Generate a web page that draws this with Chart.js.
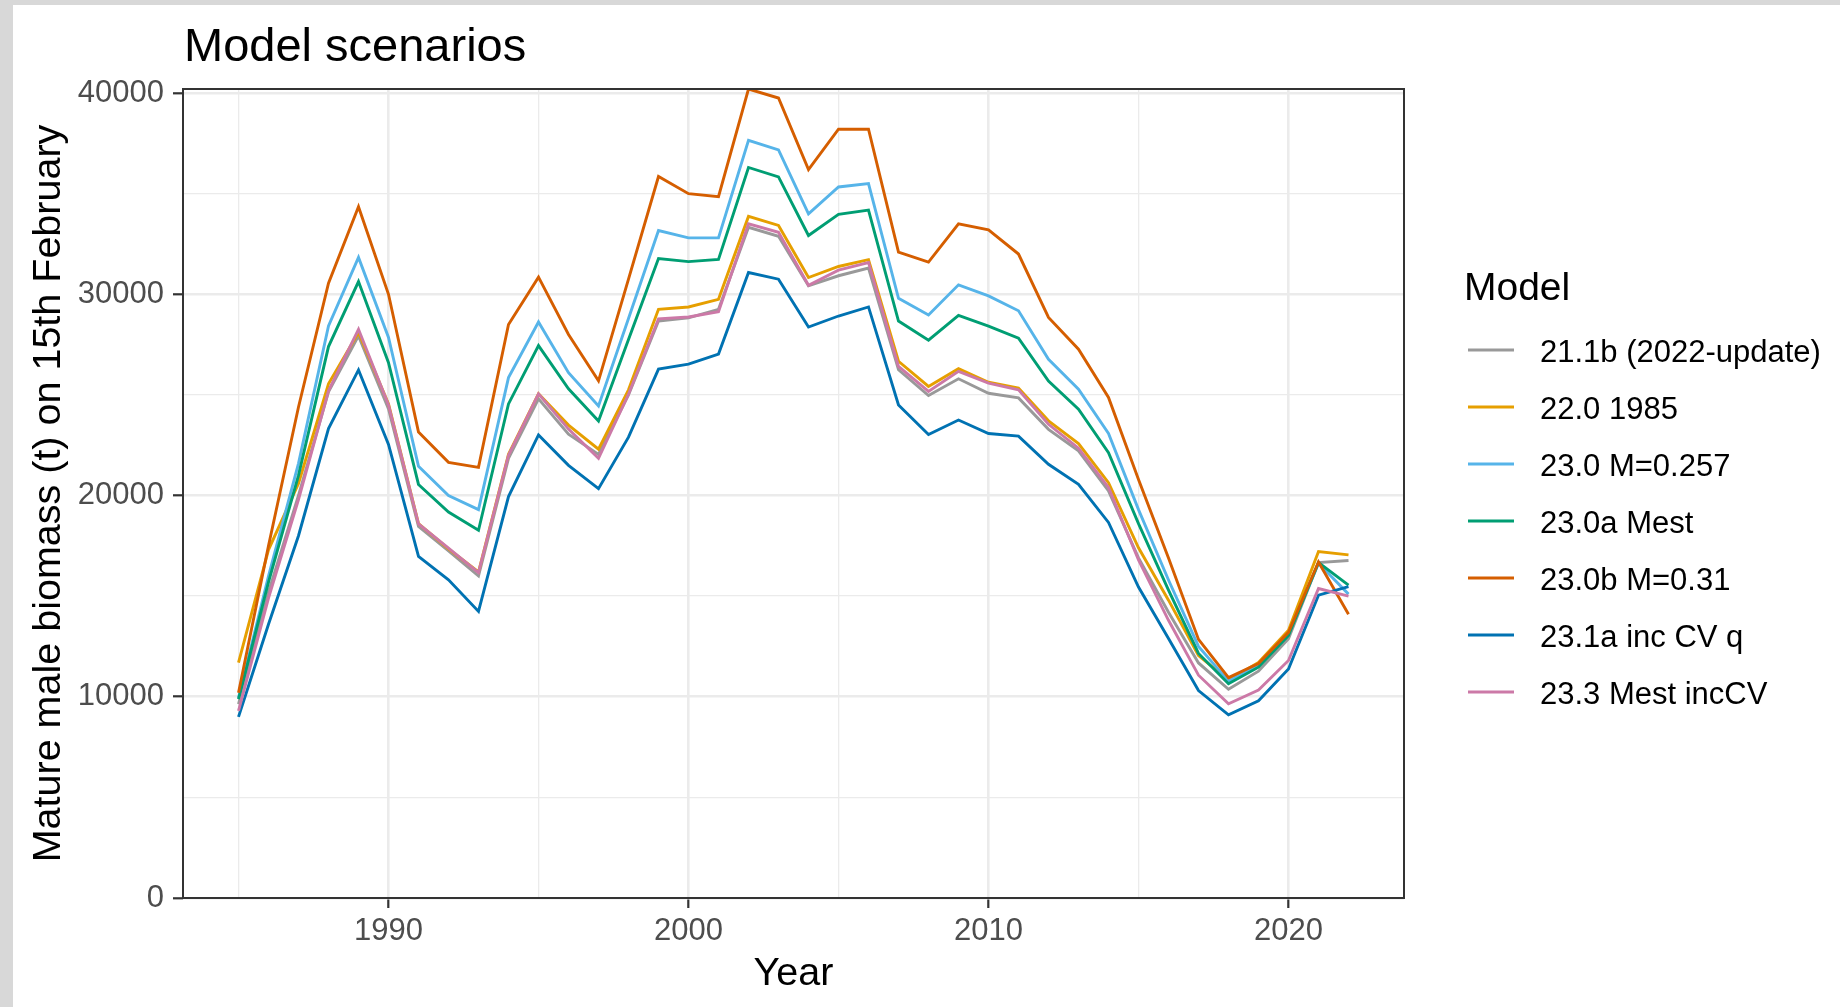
<!DOCTYPE html>
<html>
<head>
<meta charset="utf-8">
<title>Model scenarios</title>
<script src="https://cdn.jsdelivr.net/npm/chart.js@4.4.1/dist/chart.umd.min.js"></script>
<style>
  html, body { margin: 0; padding: 0; background: #fff; }
  #wrap { position: relative; width: 1840px; height: 1007px; overflow: hidden; }
  #chart { position: absolute; left: 0; top: 0; }
  .edge { position: absolute; background: #d8d8d8; }
</style>
</head>
<body>
<div id="wrap">
  <canvas id="chart" width="1840" height="1007"></canvas>
  <div class="edge" style="left:0;top:0;width:1840px;height:5px"></div>
  <div class="edge" style="left:0;top:0;width:13px;height:1007px"></div>
</div>
<script>
const chartTitle = "Model scenarios";
const xTitle = "Year";
const yTitle = "Mature male biomass (t) on 15th February";
const legendTitle = "Model";

const years = [1985, 1986, 1987, 1988, 1989, 1990, 1991, 1992, 1993, 1994,
  1995, 1996, 1997, 1998, 1999, 2000, 2001, 2002, 2003, 2004,
  2005, 2006, 2007, 2008, 2009, 2010, 2011, 2012, 2013, 2014,
  2015, 2016, 2017, 2018, 2019, 2020, 2021, 2022];

const models = ["21.1b (2022-update)", "22.0 1985", "23.0 M=0.257", "23.0a Mest",
  "23.0b M=0.31", "23.1a inc CV q", "23.3 Mest incCV"];

// mature male biomass (t) per model run
const m211b = [9630, 15200, 20000, 25150, 27930, 24300, 18460, 17250, 16000, 21850,
  24800, 23050, 22040, 25000, 28670, 28830, 29250, 33330, 32880, 30420,
  30920, 31300, 26250, 24970, 25800, 25080, 24850, 23290, 22220, 20230,
  16900, 14200, 11680, 10370, 11270, 12880, 16670, 16770];
const m220 = [11700, 17300, 20600, 25550, 28100, 24550, 18600, 17350, 16200, 22050,
  25060, 23500, 22300, 25250, 29250, 29370, 29750, 33870, 33420, 30830,
  31380, 31720, 26670, 25420, 26300, 25630, 25340, 23710, 22580, 20640,
  17400, 14800, 12050, 10830, 11700, 13300, 17220, 17050];
const m230 = [9950, 16000, 21600, 28430, 31830, 27850, 21450, 20000, 19300, 25860,
  28620, 26100, 24450, 28800, 33170, 32800, 32800, 37650, 37170, 34000,
  35330, 35500, 29800, 28970, 30470, 29920, 29180, 26770, 25280, 23080,
  19300, 15800, 12500, 10770, 11550, 13100, 16630, 15100];
const m230a = [9880, 15700, 21000, 27400, 30630, 26600, 20550, 19180, 18270, 24550,
  27450, 25300, 23700, 27750, 31780, 31620, 31730, 36300, 35830, 32920,
  33970, 34180, 28670, 27720, 28950, 28420, 27820, 25690, 24290, 22130,
  18600, 15300, 12150, 10650, 11470, 13050, 16670, 15550];
const m230b = [10200, 17500, 24400, 30550, 34350, 30000, 23150, 21650, 21400, 28500,
  30850, 28000, 25700, 30750, 35850, 35000, 34850, 40200, 39750, 36200,
  38200, 38200, 32100, 31600, 33500, 33200, 32000, 28850, 27270, 24870,
  20800, 16900, 12850, 10950, 11650, 13200, 16700, 14100];
const m231a = [9000, 13600, 18000, 23330, 26240, 22540, 16970, 15810, 14240, 19950,
  23010, 21500, 20340, 22900, 26280, 26530, 27030, 31080, 30750, 28370,
  28920, 29370, 24500, 23030, 23750, 23080, 22950, 21550, 20560, 18660,
  15450, 12900, 10310, 9100, 9800, 11380, 15050, 15470];
const m233 = [9300, 14900, 19800, 25200, 28260, 24500, 18590, 17380, 16170, 22000,
  25050, 23300, 21850, 25030, 28780, 28870, 29130, 33500, 33080, 30450,
  31200, 31580, 26420, 25170, 26170, 25580, 25250, 23540, 22350, 20400,
  16800, 13800, 11070, 9650, 10330, 11800, 15380, 15000];

// gridline positions; only the labelled ones get a tick mark
const xTicks = [1985, 1990, 1995, 2000, 2005, 2010, 2015, 2020];
const xLabels = [1990, 2000, 2010, 2020];
const yTicks = [0, 5000, 10000, 15000, 20000, 25000, 30000, 35000, 40000];
const yLabels = [0, 10000, 20000, 30000, 40000];

const series = [m211b, m220, m230, m230a, m230b, m231a, m233];
const lineColours = ["#999999", "#E69F00", "#56B4E9", "#009E73", "#D55E00", "#0072B2", "#CC79A7"];

const FONT = '"Liberation Sans", Arial, Helvetica, sans-serif';
Chart.defaults.font.family = FONT;

const datasets = models.map((name, i) => ({
  label: name,
  data: years.map((yr, k) => ({ x: yr, y: series[i][k] })),
  borderColor: lineColours[i],
  backgroundColor: lineColours[i],
  borderWidth: 2.9,
  pointRadius: 0,
  tension: 0,
  fill: false,
  order: models.length - i // first model at the bottom, last on top
}));

// box around the plotting panel
const panelBorder = {
  id: "panelBorder",
  afterDatasetsDraw(chart) {
    const { ctx, chartArea: a } = chart;
    ctx.save();
    ctx.strokeStyle = "#333333";
    ctx.lineWidth = 2;
    ctx.strokeRect(a.left, a.top, a.right - a.left, a.bottom - a.top);
    ctx.restore();
  }
};

// plot title and the legend on the right
const headings = {
  id: "headings",
  afterDraw(chart) {
    const { ctx, chartArea: a } = chart;
    ctx.save();
    ctx.fillStyle = "#000";
    ctx.textBaseline = "alphabetic";
    ctx.textAlign = "left";
    ctx.font = "47px " + FONT;
    ctx.fillText(chartTitle, a.left + 1, 61);

    const lx = a.right + 64;
    ctx.font = "39px " + FONT;
    ctx.fillText(legendTitle, lx - 4, 300);
    ctx.font = "31px " + FONT;
    models.forEach((name, i) => {
      const ky = 350 + i * 57;
      ctx.strokeStyle = lineColours[i];
      ctx.lineWidth = 2.9;
      ctx.beginPath();
      ctx.moveTo(lx, ky);
      ctx.lineTo(lx + 46, ky);
      ctx.stroke();
      ctx.fillText(name, lx + 72, ky + 12);
    });
    ctx.restore();
  }
};

new Chart(document.getElementById("chart"), {
  type: "line",
  data: { datasets },
  plugins: [panelBorder, headings],
  options: {
    responsive: false,
    animation: false,
    events: [],
    layout: { padding: { left: 0, top: 89, right: 436, bottom: 0 } },
    plugins: { legend: { display: false }, tooltip: { enabled: false } },
    scales: {
      x: {
        type: "linear",
        min: 1983.15,
        max: 2023.85,
        afterBuildTicks: (axis) => { axis.ticks = xTicks.map((v) => ({ value: v })); },
        afterFit: (axis) => { axis.height = 109; },
        border: { display: false },
        grid: {
          color: "#EBEBEB",
          lineWidth: (c) => (xLabels.includes(c.tick.value) ? 2.6 : 1.3),
          tickColor: (c) => (xLabels.includes(c.tick.value) ? "#333333" : "rgba(0,0,0,0)"),
          tickLength: 10,
          tickWidth: 2.2
        },
        ticks: {
          autoSkip: false,
          maxRotation: 0,
          padding: 5,
          color: "#4D4D4D",
          font: { size: 31 },
          callback: (v) => (xLabels.includes(v) ? String(v) : "")
        },
        title: {
          display: true,
          text: xTitle,
          color: "#000",
          font: { size: 39.5 },
          padding: { top: 0, bottom: 9 }
        }
      },
      y: {
        type: "linear",
        min: 0,
        max: 40200,
        afterBuildTicks: (axis) => { axis.ticks = yTicks.map((v) => ({ value: v })); },
        afterFit: (axis) => { axis.width = 183; },
        border: { display: false },
        grid: {
          color: "#EBEBEB",
          lineWidth: (c) => (yLabels.includes(c.tick.value) ? 2.6 : 1.3),
          tickColor: (c) => (yLabels.includes(c.tick.value) ? "#333333" : "rgba(0,0,0,0)"),
          tickLength: 10,
          tickWidth: 2.2
        },
        ticks: {
          autoSkip: false,
          padding: 9,
          color: "#4D4D4D",
          font: { size: 31 },
          callback: (v) => (yLabels.includes(v) ? String(v) : "")
        },
        title: {
          display: true,
          text: yTitle,
          color: "#000",
          font: { size: 39.5 },
          padding: { top: 25, bottom: 0 }
        }
      }
    }
  }
});
</script>
</body>
</html>
